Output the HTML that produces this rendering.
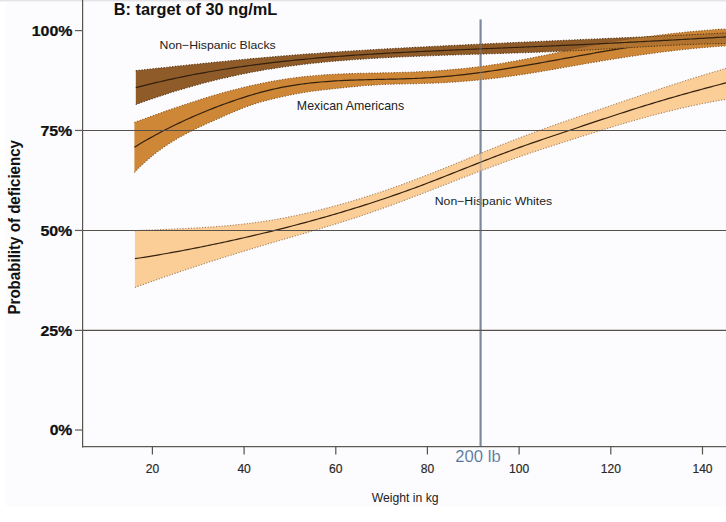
<!DOCTYPE html>
<html><head><meta charset="utf-8"><style>html,body{margin:0;padding:0;background:#fff;width:726px;height:522px;overflow:hidden;position:relative}</style></head>
<body>
<svg width="726" height="522" viewBox="0 0 726 522" style="position:absolute;left:0;top:0;font-family:'Liberation Sans', sans-serif">
<rect x="0" y="0" width="726" height="522" fill="#ffffff"/>
<rect x="6" y="0" width="720" height="506" fill="#fcfcff"/>
<rect x="0" y="0" width="726" height="1" fill="#e4e4e6"/>
<rect x="0" y="1" width="726" height="1" fill="#f2f2f4"/>
<defs><clipPath id="cb"><path d="M135.8,70.59 L138.8,70.27 L141.8,69.95 L144.8,69.63 L147.8,69.31 L150.8,68.98 L153.8,68.66 L156.8,68.34 L159.8,68.02 L162.8,67.70 L165.8,67.38 L168.8,67.06 L171.8,66.74 L174.8,66.42 L177.8,66.11 L180.8,65.79 L183.8,65.47 L186.8,65.16 L189.8,64.84 L192.8,64.53 L195.8,64.22 L198.8,63.91 L201.8,63.60 L204.8,63.29 L207.8,62.98 L210.8,62.68 L213.8,62.37 L216.8,62.07 L219.8,61.77 L222.8,61.47 L225.8,61.18 L228.8,60.88 L231.8,60.59 L234.8,60.30 L237.8,60.01 L240.8,59.72 L243.8,59.43 L246.8,59.15 L249.8,58.87 L252.8,58.59 L255.8,58.32 L258.8,58.05 L261.8,57.78 L264.8,57.51 L267.8,57.24 L270.8,56.98 L273.8,56.72 L276.8,56.47 L279.8,56.21 L282.8,55.96 L285.8,55.72 L288.8,55.47 L291.8,55.23 L294.8,55.00 L297.8,54.76 L300.8,54.53 L303.8,54.30 L306.8,54.07 L309.8,53.85 L312.8,53.63 L315.8,53.41 L318.8,53.19 L321.8,52.98 L324.8,52.77 L327.8,52.56 L330.8,52.35 L333.8,52.15 L336.8,51.95 L339.8,51.75 L342.8,51.55 L345.8,51.36 L348.8,51.16 L351.8,50.97 L354.8,50.78 L357.8,50.60 L360.8,50.41 L363.8,50.23 L366.8,50.05 L369.8,49.87 L372.8,49.69 L375.8,49.52 L378.8,49.34 L381.8,49.17 L384.8,49.00 L387.8,48.83 L390.8,48.66 L393.8,48.49 L396.8,48.33 L399.8,48.17 L402.8,48.00 L405.8,47.84 L408.8,47.68 L411.8,47.52 L414.8,47.36 L417.8,47.21 L420.8,47.05 L423.8,46.90 L426.8,46.74 L429.8,46.59 L432.8,46.44 L435.8,46.29 L438.8,46.14 L441.8,45.99 L444.8,45.84 L447.8,45.69 L450.8,45.54 L453.8,45.40 L456.8,45.25 L459.8,45.10 L462.8,44.96 L465.8,44.82 L468.8,44.67 L471.8,44.53 L474.8,44.39 L477.8,44.25 L480.8,44.11 L483.8,43.97 L486.8,43.83 L489.8,43.69 L492.8,43.55 L495.8,43.41 L498.8,43.27 L501.8,43.13 L504.8,43.00 L507.8,42.86 L510.8,42.72 L513.8,42.59 L516.8,42.45 L519.8,42.32 L522.8,42.18 L525.8,42.05 L528.8,41.92 L531.8,41.78 L534.8,41.65 L537.8,41.52 L540.8,41.38 L543.8,41.25 L546.8,41.12 L549.8,40.99 L552.8,40.85 L555.8,40.72 L558.8,40.59 L561.8,40.46 L564.8,40.33 L567.8,40.20 L570.8,40.06 L573.8,39.93 L576.8,39.80 L579.8,39.67 L582.8,39.54 L585.8,39.41 L588.8,39.28 L591.8,39.15 L594.8,39.01 L597.8,38.88 L600.8,38.75 L603.8,38.62 L606.8,38.49 L609.8,38.36 L612.8,38.23 L615.8,38.09 L618.8,37.96 L621.8,37.83 L624.8,37.70 L627.8,37.56 L630.8,37.43 L633.8,37.30 L636.8,37.16 L639.8,37.03 L642.8,36.89 L645.8,36.76 L648.8,36.63 L651.8,36.49 L654.8,36.35 L657.8,36.22 L660.8,36.08 L663.8,35.94 L666.8,35.81 L669.8,35.67 L672.8,35.53 L675.8,35.39 L678.8,35.25 L681.8,35.11 L684.8,34.97 L687.8,34.83 L690.8,34.69 L693.8,34.55 L696.8,34.41 L699.8,34.26 L702.8,34.12 L705.8,33.97 L708.8,33.83 L711.8,33.68 L714.8,33.54 L717.8,33.39 L720.8,33.24 L723.8,33.09 L726.8,32.94 L729.8,32.79 L730.0,32.78 L730.0,43.46 L729.8,43.46 L726.8,43.50 L723.8,43.54 L720.8,43.58 L717.8,43.64 L714.8,43.70 L711.8,43.77 L708.8,43.85 L705.8,43.93 L702.8,44.02 L699.8,44.12 L696.8,44.22 L693.8,44.33 L690.8,44.45 L687.8,44.57 L684.8,44.69 L681.8,44.82 L678.8,44.96 L675.8,45.10 L672.8,45.24 L669.8,45.39 L666.8,45.54 L663.8,45.69 L660.8,45.85 L657.8,46.01 L654.8,46.17 L651.8,46.34 L648.8,46.50 L645.8,46.67 L642.8,46.85 L639.8,47.02 L636.8,47.19 L633.8,47.37 L630.8,47.54 L627.8,47.72 L624.8,47.89 L621.8,48.07 L618.8,48.25 L615.8,48.42 L612.8,48.60 L609.8,48.77 L606.8,48.94 L603.8,49.11 L600.8,49.28 L597.8,49.45 L594.8,49.62 L591.8,49.78 L588.8,49.94 L585.8,50.10 L582.8,50.25 L579.8,50.40 L576.8,50.55 L573.8,50.69 L570.8,50.83 L567.8,50.97 L564.8,51.10 L561.8,51.23 L558.8,51.36 L555.8,51.49 L552.8,51.61 L549.8,51.73 L546.8,51.85 L543.8,51.96 L540.8,52.08 L537.8,52.19 L534.8,52.29 L531.8,52.40 L528.8,52.51 L525.8,52.61 L522.8,52.71 L519.8,52.81 L516.8,52.91 L513.8,53.01 L510.8,53.11 L507.8,53.20 L504.8,53.30 L501.8,53.39 L498.8,53.48 L495.8,53.58 L492.8,53.67 L489.8,53.76 L486.8,53.86 L483.8,53.95 L480.8,54.04 L477.8,54.13 L474.8,54.22 L471.8,54.32 L468.8,54.41 L465.8,54.51 L462.8,54.60 L459.8,54.70 L456.8,54.79 L453.8,54.89 L450.8,54.99 L447.8,55.09 L444.8,55.19 L441.8,55.30 L438.8,55.40 L435.8,55.51 L432.8,55.62 L429.8,55.73 L426.8,55.84 L423.8,55.96 L420.8,56.07 L417.8,56.20 L414.8,56.32 L411.8,56.44 L408.8,56.57 L405.8,56.70 L402.8,56.84 L399.8,56.97 L396.8,57.11 L393.8,57.26 L390.8,57.41 L387.8,57.56 L384.8,57.71 L381.8,57.87 L378.8,58.04 L375.8,58.21 L372.8,58.38 L369.8,58.56 L366.8,58.75 L363.8,58.94 L360.8,59.14 L357.8,59.34 L354.8,59.55 L351.8,59.77 L348.8,59.99 L345.8,60.22 L342.8,60.46 L339.8,60.70 L336.8,60.95 L333.8,61.21 L330.8,61.48 L327.8,61.76 L324.8,62.04 L321.8,62.34 L318.8,62.64 L315.8,62.95 L312.8,63.27 L309.8,63.60 L306.8,63.94 L303.8,64.29 L300.8,64.65 L297.8,65.03 L294.8,65.41 L291.8,65.80 L288.8,66.20 L285.8,66.62 L282.8,67.05 L279.8,67.49 L276.8,67.94 L273.8,68.40 L270.8,68.88 L267.8,69.36 L264.8,69.87 L261.8,70.38 L258.8,70.91 L255.8,71.45 L252.8,72.00 L249.8,72.57 L246.8,73.15 L243.8,73.75 L240.8,74.36 L237.8,74.99 L234.8,75.63 L231.8,76.28 L228.8,76.95 L225.8,77.63 L222.8,78.33 L219.8,79.04 L216.8,79.76 L213.8,80.50 L210.8,81.25 L207.8,82.01 L204.8,82.79 L201.8,83.59 L198.8,84.39 L195.8,85.21 L192.8,86.05 L189.8,86.90 L186.8,87.76 L183.8,88.64 L180.8,89.53 L177.8,90.43 L174.8,91.35 L171.8,92.28 L168.8,93.22 L165.8,94.18 L162.8,95.15 L159.8,96.14 L156.8,97.14 L153.8,98.15 L150.8,99.18 L147.8,100.22 L144.8,101.27 L141.8,102.34 L138.8,103.42 L135.8,104.51 Z"/></clipPath></defs>
<text transform="translate(434.746,205.200) scale(1.0544,1)" font-size="11.628" font-weight="normal" fill="#222">Non&#8722;Hispanic Whites</text>
<line x1="480.6" y1="19.4" x2="480.6" y2="446" stroke="#7b8a9c" stroke-width="2"/>
<path d="M134.9,230.68 L137.9,230.55 L140.9,230.42 L143.9,230.30 L146.9,230.17 L149.9,230.05 L152.9,229.93 L155.9,229.81 L158.9,229.69 L161.9,229.56 L164.9,229.44 L167.9,229.31 L170.9,229.18 L173.9,229.05 L176.9,228.92 L179.9,228.78 L182.9,228.63 L185.9,228.49 L188.9,228.33 L191.9,228.17 L194.9,228.01 L197.9,227.83 L200.9,227.66 L203.9,227.47 L206.9,227.27 L209.9,227.07 L212.9,226.85 L215.9,226.63 L218.9,226.40 L221.9,226.16 L224.9,225.90 L227.9,225.63 L230.9,225.36 L233.9,225.06 L236.9,224.76 L239.9,224.44 L242.9,224.11 L245.9,223.77 L248.9,223.41 L251.9,223.03 L254.9,222.64 L257.9,222.23 L260.9,221.80 L263.9,221.36 L266.9,220.90 L269.9,220.42 L272.9,219.92 L275.9,219.41 L278.9,218.87 L281.9,218.32 L284.9,217.75 L287.9,217.16 L290.9,216.56 L293.9,215.94 L296.9,215.30 L299.9,214.65 L302.9,213.98 L305.9,213.30 L308.9,212.60 L311.9,211.89 L314.9,211.16 L317.9,210.42 L320.9,209.66 L323.9,208.90 L326.9,208.12 L329.9,207.32 L332.9,206.52 L335.9,205.70 L338.9,204.87 L341.9,204.03 L344.9,203.17 L347.9,202.31 L350.9,201.43 L353.9,200.54 L356.9,199.63 L359.9,198.72 L362.9,197.79 L365.9,196.85 L368.9,195.90 L371.9,194.93 L374.9,193.95 L377.9,192.97 L380.9,191.96 L383.9,190.95 L386.9,189.92 L389.9,188.88 L392.9,187.83 L395.9,186.77 L398.9,185.69 L401.9,184.61 L404.9,183.51 L407.9,182.40 L410.9,181.28 L413.9,180.15 L416.9,179.02 L419.9,177.87 L422.9,176.72 L425.9,175.55 L428.9,174.38 L431.9,173.20 L434.9,172.01 L437.9,170.82 L440.9,169.62 L443.9,168.41 L446.9,167.20 L449.9,165.98 L452.9,164.76 L455.9,163.54 L458.9,162.31 L461.9,161.07 L464.9,159.84 L467.9,158.60 L470.9,157.36 L473.9,156.13 L476.9,154.89 L479.9,153.66 L482.9,152.42 L485.9,151.19 L488.9,149.97 L491.9,148.75 L494.9,147.53 L497.9,146.32 L500.9,145.12 L503.9,143.93 L506.9,142.74 L509.9,141.56 L512.9,140.40 L515.9,139.24 L518.9,138.09 L521.9,136.95 L524.9,135.82 L527.9,134.69 L530.9,133.58 L533.9,132.47 L536.9,131.37 L539.9,130.28 L542.9,129.19 L545.9,128.11 L548.9,127.04 L551.9,125.97 L554.9,124.91 L557.9,123.85 L560.9,122.80 L563.9,121.75 L566.9,120.71 L569.9,119.66 L572.9,118.63 L575.9,117.59 L578.9,116.56 L581.9,115.53 L584.9,114.50 L587.9,113.47 L590.9,112.44 L593.9,111.41 L596.9,110.38 L599.9,109.36 L602.9,108.33 L605.9,107.30 L608.9,106.27 L611.9,105.24 L614.9,104.22 L617.9,103.19 L620.9,102.16 L623.9,101.13 L626.9,100.11 L629.9,99.09 L632.9,98.06 L635.9,97.04 L638.9,96.03 L641.9,95.01 L644.9,94.00 L647.9,92.99 L650.9,91.98 L653.9,90.98 L656.9,89.98 L659.9,88.98 L662.9,87.99 L665.9,87.00 L668.9,86.01 L671.9,85.03 L674.9,84.06 L677.9,83.09 L680.9,82.12 L683.9,81.16 L686.9,80.21 L689.9,79.26 L692.9,78.32 L695.9,77.39 L698.9,76.46 L701.9,75.54 L704.9,74.62 L707.9,73.71 L710.9,72.82 L713.9,71.92 L716.9,71.04 L719.9,70.16 L722.9,69.30 L725.9,68.44 L728.9,67.59 L730.0,67.28 L730.0,98.65 L728.9,98.83 L725.9,99.31 L722.9,99.80 L719.9,100.31 L716.9,100.84 L713.9,101.38 L710.9,101.94 L707.9,102.51 L704.9,103.09 L701.9,103.69 L698.9,104.31 L695.9,104.94 L692.9,105.58 L689.9,106.23 L686.9,106.90 L683.9,107.58 L680.9,108.27 L677.9,108.97 L674.9,109.69 L671.9,110.42 L668.9,111.16 L665.9,111.91 L662.9,112.67 L659.9,113.44 L656.9,114.23 L653.9,115.02 L650.9,115.82 L647.9,116.63 L644.9,117.46 L641.9,118.29 L638.9,119.13 L635.9,119.97 L632.9,120.83 L629.9,121.69 L626.9,122.56 L623.9,123.44 L620.9,124.33 L617.9,125.22 L614.9,126.11 L611.9,127.02 L608.9,127.93 L605.9,128.84 L602.9,129.76 L599.9,130.69 L596.9,131.62 L593.9,132.55 L590.9,133.49 L587.9,134.43 L584.9,135.37 L581.9,136.32 L578.9,137.27 L575.9,138.22 L572.9,139.17 L569.9,140.13 L566.9,141.09 L563.9,142.05 L560.9,143.01 L557.9,143.97 L554.9,144.94 L551.9,145.91 L548.9,146.89 L545.9,147.87 L542.9,148.85 L539.9,149.84 L536.9,150.83 L533.9,151.84 L530.9,152.84 L527.9,153.86 L524.9,154.88 L521.9,155.91 L518.9,156.94 L515.9,157.99 L512.9,159.04 L509.9,160.10 L506.9,161.18 L503.9,162.26 L500.9,163.35 L497.9,164.45 L494.9,165.55 L491.9,166.67 L488.9,167.79 L485.9,168.91 L482.9,170.04 L479.9,171.18 L476.9,172.33 L473.9,173.47 L470.9,174.63 L467.9,175.78 L464.9,176.94 L461.9,178.10 L458.9,179.27 L455.9,180.43 L452.9,181.60 L449.9,182.77 L446.9,183.94 L443.9,185.11 L440.9,186.28 L437.9,187.45 L434.9,188.61 L431.9,189.78 L428.9,190.94 L425.9,192.10 L422.9,193.26 L419.9,194.42 L416.9,195.57 L413.9,196.72 L410.9,197.86 L407.9,199.00 L404.9,200.13 L401.9,201.25 L398.9,202.37 L395.9,203.49 L392.9,204.59 L389.9,205.69 L386.9,206.79 L383.9,207.87 L380.9,208.95 L377.9,210.01 L374.9,211.07 L371.9,212.12 L368.9,213.16 L365.9,214.18 L362.9,215.20 L359.9,216.21 L356.9,217.20 L353.9,218.19 L350.9,219.16 L347.9,220.12 L344.9,221.08 L341.9,222.02 L338.9,222.96 L335.9,223.89 L332.9,224.81 L329.9,225.72 L326.9,226.63 L323.9,227.53 L320.9,228.43 L317.9,229.32 L314.9,230.21 L311.9,231.09 L308.9,231.97 L305.9,232.85 L302.9,233.73 L299.9,234.60 L296.9,235.47 L293.9,236.34 L290.9,237.21 L287.9,238.09 L284.9,238.96 L281.9,239.83 L278.9,240.70 L275.9,241.58 L272.9,242.46 L269.9,243.34 L266.9,244.23 L263.9,245.12 L260.9,246.01 L257.9,246.91 L254.9,247.81 L251.9,248.72 L248.9,249.62 L245.9,250.54 L242.9,251.45 L239.9,252.38 L236.9,253.30 L233.9,254.23 L230.9,255.16 L227.9,256.10 L224.9,257.04 L221.9,257.99 L218.9,258.94 L215.9,259.89 L212.9,260.85 L209.9,261.82 L206.9,262.78 L203.9,263.76 L200.9,264.73 L197.9,265.71 L194.9,266.70 L191.9,267.69 L188.9,268.69 L185.9,269.69 L182.9,270.69 L179.9,271.70 L176.9,272.72 L173.9,273.74 L170.9,274.77 L167.9,275.80 L164.9,276.83 L161.9,277.87 L158.9,278.92 L155.9,279.97 L152.9,281.02 L149.9,282.08 L146.9,283.15 L143.9,284.22 L140.9,285.30 L137.9,286.38 L134.9,287.47 Z" fill="#face96"/>
<path d="M134.9,230.68 L137.9,230.55 L140.9,230.42 L143.9,230.30 L146.9,230.17 L149.9,230.05 L152.9,229.93 L155.9,229.81 L158.9,229.69 L161.9,229.56 L164.9,229.44 L167.9,229.31 L170.9,229.18 L173.9,229.05 L176.9,228.92 L179.9,228.78 L182.9,228.63 L185.9,228.49 L188.9,228.33 L191.9,228.17 L194.9,228.01 L197.9,227.83 L200.9,227.66 L203.9,227.47 L206.9,227.27 L209.9,227.07 L212.9,226.85 L215.9,226.63 L218.9,226.40 L221.9,226.16 L224.9,225.90 L227.9,225.63 L230.9,225.36 L233.9,225.06 L236.9,224.76 L239.9,224.44 L242.9,224.11 L245.9,223.77 L248.9,223.41 L251.9,223.03 L254.9,222.64 L257.9,222.23 L260.9,221.80 L263.9,221.36 L266.9,220.90 L269.9,220.42 L272.9,219.92 L275.9,219.41 L278.9,218.87 L281.9,218.32 L284.9,217.75 L287.9,217.16 L290.9,216.56 L293.9,215.94 L296.9,215.30 L299.9,214.65 L302.9,213.98 L305.9,213.30 L308.9,212.60 L311.9,211.89 L314.9,211.16 L317.9,210.42 L320.9,209.66 L323.9,208.90 L326.9,208.12 L329.9,207.32 L332.9,206.52 L335.9,205.70 L338.9,204.87 L341.9,204.03 L344.9,203.17 L347.9,202.31 L350.9,201.43 L353.9,200.54 L356.9,199.63 L359.9,198.72 L362.9,197.79 L365.9,196.85 L368.9,195.90 L371.9,194.93 L374.9,193.95 L377.9,192.97 L380.9,191.96 L383.9,190.95 L386.9,189.92 L389.9,188.88 L392.9,187.83 L395.9,186.77 L398.9,185.69 L401.9,184.61 L404.9,183.51 L407.9,182.40 L410.9,181.28 L413.9,180.15 L416.9,179.02 L419.9,177.87 L422.9,176.72 L425.9,175.55 L428.9,174.38 L431.9,173.20 L434.9,172.01 L437.9,170.82 L440.9,169.62 L443.9,168.41 L446.9,167.20 L449.9,165.98 L452.9,164.76 L455.9,163.54 L458.9,162.31 L461.9,161.07 L464.9,159.84 L467.9,158.60 L470.9,157.36 L473.9,156.13 L476.9,154.89 L479.9,153.66 L482.9,152.42 L485.9,151.19 L488.9,149.97 L491.9,148.75 L494.9,147.53 L497.9,146.32 L500.9,145.12 L503.9,143.93 L506.9,142.74 L509.9,141.56 L512.9,140.40 L515.9,139.24 L518.9,138.09 L521.9,136.95 L524.9,135.82 L527.9,134.69 L530.9,133.58 L533.9,132.47 L536.9,131.37 L539.9,130.28 L542.9,129.19 L545.9,128.11 L548.9,127.04 L551.9,125.97 L554.9,124.91 L557.9,123.85 L560.9,122.80 L563.9,121.75 L566.9,120.71 L569.9,119.66 L572.9,118.63 L575.9,117.59 L578.9,116.56 L581.9,115.53 L584.9,114.50 L587.9,113.47 L590.9,112.44 L593.9,111.41 L596.9,110.38 L599.9,109.36 L602.9,108.33 L605.9,107.30 L608.9,106.27 L611.9,105.24 L614.9,104.22 L617.9,103.19 L620.9,102.16 L623.9,101.13 L626.9,100.11 L629.9,99.09 L632.9,98.06 L635.9,97.04 L638.9,96.03 L641.9,95.01 L644.9,94.00 L647.9,92.99 L650.9,91.98 L653.9,90.98 L656.9,89.98 L659.9,88.98 L662.9,87.99 L665.9,87.00 L668.9,86.01 L671.9,85.03 L674.9,84.06 L677.9,83.09 L680.9,82.12 L683.9,81.16 L686.9,80.21 L689.9,79.26 L692.9,78.32 L695.9,77.39 L698.9,76.46 L701.9,75.54 L704.9,74.62 L707.9,73.71 L710.9,72.82 L713.9,71.92 L716.9,71.04 L719.9,70.16 L722.9,69.30 L725.9,68.44 L728.9,67.59 L730.0,67.28" fill="none" stroke="#a88462" stroke-width="1.1" stroke-dasharray="1.2 1.6"/>
<path d="M134.9,287.47 L137.9,286.38 L140.9,285.30 L143.9,284.22 L146.9,283.15 L149.9,282.08 L152.9,281.02 L155.9,279.97 L158.9,278.92 L161.9,277.87 L164.9,276.83 L167.9,275.80 L170.9,274.77 L173.9,273.74 L176.9,272.72 L179.9,271.70 L182.9,270.69 L185.9,269.69 L188.9,268.69 L191.9,267.69 L194.9,266.70 L197.9,265.71 L200.9,264.73 L203.9,263.76 L206.9,262.78 L209.9,261.82 L212.9,260.85 L215.9,259.89 L218.9,258.94 L221.9,257.99 L224.9,257.04 L227.9,256.10 L230.9,255.16 L233.9,254.23 L236.9,253.30 L239.9,252.38 L242.9,251.45 L245.9,250.54 L248.9,249.62 L251.9,248.72 L254.9,247.81 L257.9,246.91 L260.9,246.01 L263.9,245.12 L266.9,244.23 L269.9,243.34 L272.9,242.46 L275.9,241.58 L278.9,240.70 L281.9,239.83 L284.9,238.96 L287.9,238.09 L290.9,237.21 L293.9,236.34 L296.9,235.47 L299.9,234.60 L302.9,233.73 L305.9,232.85 L308.9,231.97 L311.9,231.09 L314.9,230.21 L317.9,229.32 L320.9,228.43 L323.9,227.53 L326.9,226.63 L329.9,225.72 L332.9,224.81 L335.9,223.89 L338.9,222.96 L341.9,222.02 L344.9,221.08 L347.9,220.12 L350.9,219.16 L353.9,218.19 L356.9,217.20 L359.9,216.21 L362.9,215.20 L365.9,214.18 L368.9,213.16 L371.9,212.12 L374.9,211.07 L377.9,210.01 L380.9,208.95 L383.9,207.87 L386.9,206.79 L389.9,205.69 L392.9,204.59 L395.9,203.49 L398.9,202.37 L401.9,201.25 L404.9,200.13 L407.9,199.00 L410.9,197.86 L413.9,196.72 L416.9,195.57 L419.9,194.42 L422.9,193.26 L425.9,192.10 L428.9,190.94 L431.9,189.78 L434.9,188.61 L437.9,187.45 L440.9,186.28 L443.9,185.11 L446.9,183.94 L449.9,182.77 L452.9,181.60 L455.9,180.43 L458.9,179.27 L461.9,178.10 L464.9,176.94 L467.9,175.78 L470.9,174.63 L473.9,173.47 L476.9,172.33 L479.9,171.18 L482.9,170.04 L485.9,168.91 L488.9,167.79 L491.9,166.67 L494.9,165.55 L497.9,164.45 L500.9,163.35 L503.9,162.26 L506.9,161.18 L509.9,160.10 L512.9,159.04 L515.9,157.99 L518.9,156.94 L521.9,155.91 L524.9,154.88 L527.9,153.86 L530.9,152.84 L533.9,151.84 L536.9,150.83 L539.9,149.84 L542.9,148.85 L545.9,147.87 L548.9,146.89 L551.9,145.91 L554.9,144.94 L557.9,143.97 L560.9,143.01 L563.9,142.05 L566.9,141.09 L569.9,140.13 L572.9,139.17 L575.9,138.22 L578.9,137.27 L581.9,136.32 L584.9,135.37 L587.9,134.43 L590.9,133.49 L593.9,132.55 L596.9,131.62 L599.9,130.69 L602.9,129.76 L605.9,128.84 L608.9,127.93 L611.9,127.02 L614.9,126.11 L617.9,125.22 L620.9,124.33 L623.9,123.44 L626.9,122.56 L629.9,121.69 L632.9,120.83 L635.9,119.97 L638.9,119.13 L641.9,118.29 L644.9,117.46 L647.9,116.63 L650.9,115.82 L653.9,115.02 L656.9,114.23 L659.9,113.44 L662.9,112.67 L665.9,111.91 L668.9,111.16 L671.9,110.42 L674.9,109.69 L677.9,108.97 L680.9,108.27 L683.9,107.58 L686.9,106.90 L689.9,106.23 L692.9,105.58 L695.9,104.94 L698.9,104.31 L701.9,103.69 L704.9,103.09 L707.9,102.51 L710.9,101.94 L713.9,101.38 L716.9,100.84 L719.9,100.31 L722.9,99.80 L725.9,99.31 L728.9,98.83 L730.0,98.65" fill="none" stroke="#a88462" stroke-width="1.1" stroke-dasharray="1.2 1.6"/>


<path d="M134.9,258.71 L137.9,258.24 L140.9,257.77 L143.9,257.29 L146.9,256.80 L149.9,256.31 L152.9,255.81 L155.9,255.31 L158.9,254.79 L161.9,254.28 L164.9,253.75 L167.9,253.22 L170.9,252.69 L173.9,252.14 L176.9,251.59 L179.9,251.04 L182.9,250.48 L185.9,249.91 L188.9,249.34 L191.9,248.76 L194.9,248.17 L197.9,247.58 L200.9,246.98 L203.9,246.38 L206.9,245.76 L209.9,245.15 L212.9,244.53 L215.9,243.90 L218.9,243.26 L221.9,242.62 L224.9,241.98 L227.9,241.32 L230.9,240.67 L233.9,240.00 L236.9,239.33 L239.9,238.66 L242.9,237.98 L245.9,237.29 L248.9,236.60 L251.9,235.90 L254.9,235.19 L257.9,234.48 L260.9,233.77 L263.9,233.04 L266.9,232.32 L269.9,231.58 L272.9,230.84 L275.9,230.10 L278.9,229.35 L281.9,228.59 L284.9,227.83 L287.9,227.06 L290.9,226.29 L293.9,225.50 L296.9,224.72 L299.9,223.92 L302.9,223.12 L305.9,222.32 L308.9,221.50 L311.9,220.68 L314.9,219.86 L317.9,219.02 L320.9,218.18 L323.9,217.33 L326.9,216.48 L329.9,215.61 L332.9,214.74 L335.9,213.87 L338.9,212.98 L341.9,212.09 L344.9,211.19 L347.9,210.28 L350.9,209.37 L353.9,208.44 L356.9,207.51 L359.9,206.57 L362.9,205.63 L365.9,204.67 L368.9,203.71 L371.9,202.73 L374.9,201.75 L377.9,200.76 L380.9,199.77 L383.9,198.76 L386.9,197.74 L389.9,196.72 L392.9,195.69 L395.9,194.64 L398.9,193.59 L401.9,192.53 L404.9,191.46 L407.9,190.38 L410.9,189.29 L413.9,188.19 L416.9,187.09 L419.9,185.97 L422.9,184.84 L425.9,183.70 L428.9,182.56 L431.9,181.41 L434.9,180.25 L437.9,179.08 L440.9,177.91 L443.9,176.73 L446.9,175.55 L449.9,174.36 L452.9,173.18 L455.9,171.99 L458.9,170.79 L461.9,169.60 L464.9,168.41 L467.9,167.22 L470.9,166.02 L473.9,164.84 L476.9,163.65 L479.9,162.47 L482.9,161.29 L485.9,160.11 L488.9,158.94 L491.9,157.78 L494.9,156.62 L497.9,155.47 L500.9,154.33 L503.9,153.20 L506.9,152.07 L509.9,150.96 L512.9,149.86 L515.9,148.76 L518.9,147.68 L521.9,146.61 L524.9,145.54 L527.9,144.48 L530.9,143.43 L533.9,142.39 L536.9,141.36 L539.9,140.33 L542.9,139.30 L545.9,138.28 L548.9,137.26 L551.9,136.25 L554.9,135.24 L557.9,134.23 L560.9,133.22 L563.9,132.22 L566.9,131.21 L569.9,130.21 L572.9,129.21 L575.9,128.20 L578.9,127.20 L581.9,126.19 L584.9,125.19 L587.9,124.19 L590.9,123.18 L593.9,122.18 L596.9,121.19 L599.9,120.19 L602.9,119.19 L605.9,118.20 L608.9,117.21 L611.9,116.23 L614.9,115.25 L617.9,114.27 L620.9,113.29 L623.9,112.32 L626.9,111.35 L629.9,110.39 L632.9,109.44 L635.9,108.49 L638.9,107.54 L641.9,106.60 L644.9,105.67 L647.9,104.74 L650.9,103.82 L653.9,102.91 L656.9,102.00 L659.9,101.10 L662.9,100.21 L665.9,99.33 L668.9,98.45 L671.9,97.58 L674.9,96.72 L677.9,95.86 L680.9,95.01 L683.9,94.17 L686.9,93.34 L689.9,92.50 L692.9,91.68 L695.9,90.86 L698.9,90.05 L701.9,89.24 L704.9,88.43 L707.9,87.63 L710.9,86.83 L713.9,86.04 L716.9,85.26 L719.9,84.47 L722.9,83.69 L725.9,82.91 L728.9,82.14 L730.0,81.86" fill="none" stroke="#33200e" stroke-width="1.2"/>

<path d="M134.4,122.45 L137.4,121.35 L140.4,120.26 L143.4,119.16 L146.4,118.07 L149.4,116.98 L152.4,115.90 L155.4,114.82 L158.4,113.74 L161.4,112.67 L164.4,111.61 L167.4,110.55 L170.4,109.50 L173.4,108.46 L176.4,107.43 L179.4,106.40 L182.4,105.39 L185.4,104.38 L188.4,103.38 L191.4,102.39 L194.4,101.42 L197.4,100.45 L200.4,99.50 L203.4,98.56 L206.4,97.63 L209.4,96.72 L212.4,95.82 L215.4,94.93 L218.4,94.06 L221.4,93.21 L224.4,92.37 L227.4,91.55 L230.4,90.74 L233.4,89.95 L236.4,89.18 L239.4,88.42 L242.4,87.68 L245.4,86.97 L248.4,86.26 L251.4,85.58 L254.4,84.92 L257.4,84.27 L260.4,83.64 L263.4,83.03 L266.4,82.44 L269.4,81.87 L272.4,81.31 L275.4,80.78 L278.4,80.27 L281.4,79.77 L284.4,79.29 L287.4,78.84 L290.4,78.40 L293.4,77.99 L296.4,77.59 L299.4,77.21 L302.4,76.86 L305.4,76.52 L308.4,76.21 L311.4,75.92 L314.4,75.64 L317.4,75.39 L320.4,75.15 L323.4,74.94 L326.4,74.74 L329.4,74.55 L332.4,74.38 L335.4,74.23 L338.4,74.08 L341.4,73.95 L344.4,73.83 L347.4,73.72 L350.4,73.62 L353.4,73.53 L356.4,73.45 L359.4,73.37 L362.4,73.29 L365.4,73.23 L368.4,73.16 L371.4,73.10 L374.4,73.04 L377.4,72.98 L380.4,72.92 L383.4,72.86 L386.4,72.80 L389.4,72.74 L392.4,72.67 L395.4,72.60 L398.4,72.52 L401.4,72.43 L404.4,72.34 L407.4,72.24 L410.4,72.13 L413.4,72.01 L416.4,71.89 L419.4,71.76 L422.4,71.61 L425.4,71.46 L428.4,71.30 L431.4,71.13 L434.4,70.95 L437.4,70.75 L440.4,70.55 L443.4,70.33 L446.4,70.11 L449.4,69.87 L452.4,69.61 L455.4,69.35 L458.4,69.07 L461.4,68.78 L464.4,68.48 L467.4,68.16 L470.4,67.83 L473.4,67.48 L476.4,67.12 L479.4,66.74 L482.4,66.35 L485.4,65.94 L488.4,65.52 L491.4,65.08 L494.4,64.62 L497.4,64.15 L500.4,63.66 L503.4,63.16 L506.4,62.65 L509.4,62.12 L512.4,61.58 L515.4,61.03 L518.4,60.48 L521.4,59.91 L524.4,59.33 L527.4,58.75 L530.4,58.16 L533.4,57.56 L536.4,56.96 L539.4,56.35 L542.4,55.74 L545.4,55.13 L548.4,54.51 L551.4,53.89 L554.4,53.28 L557.4,52.66 L560.4,52.04 L563.4,51.43 L566.4,50.82 L569.4,50.21 L572.4,49.60 L575.4,49.00 L578.4,48.41 L581.4,47.82 L584.4,47.24 L587.4,46.67 L590.4,46.10 L593.4,45.55 L596.4,44.99 L599.4,44.45 L602.4,43.91 L605.4,43.38 L608.4,42.86 L611.4,42.34 L614.4,41.84 L617.4,41.34 L620.4,40.85 L623.4,40.36 L626.4,39.89 L629.4,39.42 L632.4,38.96 L635.4,38.50 L638.4,38.06 L641.4,37.62 L644.4,37.19 L647.4,36.77 L650.4,36.36 L653.4,35.96 L656.4,35.56 L659.4,35.18 L662.4,34.80 L665.4,34.43 L668.4,34.07 L671.4,33.72 L674.4,33.37 L677.4,33.04 L680.4,32.71 L683.4,32.40 L686.4,32.09 L689.4,31.79 L692.4,31.50 L695.4,31.22 L698.4,30.95 L701.4,30.69 L704.4,30.44 L707.4,30.20 L710.4,29.96 L713.4,29.74 L716.4,29.52 L719.4,29.32 L722.4,29.13 L725.4,28.94 L728.4,28.77 L730.0,28.68 L730.0,45.59 L728.4,45.69 L725.4,45.87 L722.4,46.07 L719.4,46.28 L716.4,46.50 L713.4,46.72 L710.4,46.96 L707.4,47.21 L704.4,47.47 L701.4,47.73 L698.4,48.01 L695.4,48.29 L692.4,48.59 L689.4,48.89 L686.4,49.20 L683.4,49.52 L680.4,49.85 L677.4,50.19 L674.4,50.53 L671.4,50.89 L668.4,51.25 L665.4,51.61 L662.4,51.99 L659.4,52.37 L656.4,52.76 L653.4,53.16 L650.4,53.56 L647.4,53.98 L644.4,54.39 L641.4,54.82 L638.4,55.25 L635.4,55.68 L632.4,56.12 L629.4,56.57 L626.4,57.03 L623.4,57.48 L620.4,57.95 L617.4,58.42 L614.4,58.89 L611.4,59.37 L608.4,59.86 L605.4,60.34 L602.4,60.84 L599.4,61.34 L596.4,61.84 L593.4,62.34 L590.4,62.85 L587.4,63.36 L584.4,63.88 L581.4,64.40 L578.4,64.92 L575.4,65.45 L572.4,65.98 L569.4,66.51 L566.4,67.03 L563.4,67.56 L560.4,68.09 L557.4,68.62 L554.4,69.15 L551.4,69.67 L548.4,70.19 L545.4,70.71 L542.4,71.22 L539.4,71.72 L536.4,72.22 L533.4,72.71 L530.4,73.20 L527.4,73.67 L524.4,74.14 L521.4,74.60 L518.4,75.04 L515.4,75.48 L512.4,75.91 L509.4,76.32 L506.4,76.73 L503.4,77.12 L500.4,77.50 L497.4,77.88 L494.4,78.24 L491.4,78.59 L488.4,78.92 L485.4,79.25 L482.4,79.57 L479.4,79.87 L476.4,80.17 L473.4,80.45 L470.4,80.72 L467.4,80.98 L464.4,81.22 L461.4,81.46 L458.4,81.68 L455.4,81.90 L452.4,82.10 L449.4,82.29 L446.4,82.46 L443.4,82.63 L440.4,82.78 L437.4,82.92 L434.4,83.05 L431.4,83.17 L428.4,83.27 L425.4,83.37 L422.4,83.45 L419.4,83.53 L416.4,83.60 L413.4,83.67 L410.4,83.73 L407.4,83.79 L404.4,83.86 L401.4,83.92 L398.4,83.99 L395.4,84.07 L392.4,84.16 L389.4,84.25 L386.4,84.36 L383.4,84.48 L380.4,84.61 L377.4,84.77 L374.4,84.94 L371.4,85.13 L368.4,85.34 L365.4,85.57 L362.4,85.83 L359.4,86.10 L356.4,86.38 L353.4,86.67 L350.4,86.97 L347.4,87.28 L344.4,87.59 L341.4,87.90 L338.4,88.21 L335.4,88.51 L332.4,88.82 L329.4,89.13 L326.4,89.45 L323.4,89.78 L320.4,90.13 L317.4,90.50 L314.4,90.89 L311.4,91.30 L308.4,91.74 L305.4,92.21 L302.4,92.71 L299.4,93.24 L296.4,93.79 L293.4,94.37 L290.4,94.96 L287.4,95.58 L284.4,96.22 L281.4,96.87 L278.4,97.55 L275.4,98.24 L272.4,98.95 L269.4,99.69 L266.4,100.46 L263.4,101.26 L260.4,102.11 L257.4,103.00 L254.4,103.93 L251.4,104.92 L248.4,105.97 L245.4,107.08 L242.4,108.23 L239.4,109.42 L236.4,110.66 L233.4,111.92 L230.4,113.21 L227.4,114.52 L224.4,115.84 L221.4,117.16 L218.4,118.49 L215.4,119.81 L212.4,121.14 L209.4,122.48 L206.4,123.83 L203.4,125.19 L200.4,126.58 L197.4,128.00 L194.4,129.45 L191.4,130.94 L188.4,132.46 L185.4,134.04 L182.4,135.66 L179.4,137.34 L176.4,139.08 L173.4,140.89 L170.4,142.76 L167.4,144.71 L164.4,146.73 L161.4,148.85 L158.4,151.04 L155.4,153.34 L152.4,155.73 L149.4,158.22 L146.4,160.82 L143.4,163.53 L140.4,166.36 L137.4,169.31 L134.4,172.38 Z" fill="#cd8737"/>
<path d="M134.4,122.45 L137.4,121.35 L140.4,120.26 L143.4,119.16 L146.4,118.07 L149.4,116.98 L152.4,115.90 L155.4,114.82 L158.4,113.74 L161.4,112.67 L164.4,111.61 L167.4,110.55 L170.4,109.50 L173.4,108.46 L176.4,107.43 L179.4,106.40 L182.4,105.39 L185.4,104.38 L188.4,103.38 L191.4,102.39 L194.4,101.42 L197.4,100.45 L200.4,99.50 L203.4,98.56 L206.4,97.63 L209.4,96.72 L212.4,95.82 L215.4,94.93 L218.4,94.06 L221.4,93.21 L224.4,92.37 L227.4,91.55 L230.4,90.74 L233.4,89.95 L236.4,89.18 L239.4,88.42 L242.4,87.68 L245.4,86.97 L248.4,86.26 L251.4,85.58 L254.4,84.92 L257.4,84.27 L260.4,83.64 L263.4,83.03 L266.4,82.44 L269.4,81.87 L272.4,81.31 L275.4,80.78 L278.4,80.27 L281.4,79.77 L284.4,79.29 L287.4,78.84 L290.4,78.40 L293.4,77.99 L296.4,77.59 L299.4,77.21 L302.4,76.86 L305.4,76.52 L308.4,76.21 L311.4,75.92 L314.4,75.64 L317.4,75.39 L320.4,75.15 L323.4,74.94 L326.4,74.74 L329.4,74.55 L332.4,74.38 L335.4,74.23 L338.4,74.08 L341.4,73.95 L344.4,73.83 L347.4,73.72 L350.4,73.62 L353.4,73.53 L356.4,73.45 L359.4,73.37 L362.4,73.29 L365.4,73.23 L368.4,73.16 L371.4,73.10 L374.4,73.04 L377.4,72.98 L380.4,72.92 L383.4,72.86 L386.4,72.80 L389.4,72.74 L392.4,72.67 L395.4,72.60 L398.4,72.52 L401.4,72.43 L404.4,72.34 L407.4,72.24 L410.4,72.13 L413.4,72.01 L416.4,71.89 L419.4,71.76 L422.4,71.61 L425.4,71.46 L428.4,71.30 L431.4,71.13 L434.4,70.95 L437.4,70.75 L440.4,70.55 L443.4,70.33 L446.4,70.11 L449.4,69.87 L452.4,69.61 L455.4,69.35 L458.4,69.07 L461.4,68.78 L464.4,68.48 L467.4,68.16 L470.4,67.83 L473.4,67.48 L476.4,67.12 L479.4,66.74 L482.4,66.35 L485.4,65.94 L488.4,65.52 L491.4,65.08 L494.4,64.62 L497.4,64.15 L500.4,63.66 L503.4,63.16 L506.4,62.65 L509.4,62.12 L512.4,61.58 L515.4,61.03 L518.4,60.48 L521.4,59.91 L524.4,59.33 L527.4,58.75 L530.4,58.16 L533.4,57.56 L536.4,56.96 L539.4,56.35 L542.4,55.74 L545.4,55.13 L548.4,54.51 L551.4,53.89 L554.4,53.28 L557.4,52.66 L560.4,52.04 L563.4,51.43 L566.4,50.82 L569.4,50.21 L572.4,49.60 L575.4,49.00 L578.4,48.41 L581.4,47.82 L584.4,47.24 L587.4,46.67 L590.4,46.10 L593.4,45.55 L596.4,44.99 L599.4,44.45 L602.4,43.91 L605.4,43.38 L608.4,42.86 L611.4,42.34 L614.4,41.84 L617.4,41.34 L620.4,40.85 L623.4,40.36 L626.4,39.89 L629.4,39.42 L632.4,38.96 L635.4,38.50 L638.4,38.06 L641.4,37.62 L644.4,37.19 L647.4,36.77 L650.4,36.36 L653.4,35.96 L656.4,35.56 L659.4,35.18 L662.4,34.80 L665.4,34.43 L668.4,34.07 L671.4,33.72 L674.4,33.37 L677.4,33.04 L680.4,32.71 L683.4,32.40 L686.4,32.09 L689.4,31.79 L692.4,31.50 L695.4,31.22 L698.4,30.95 L701.4,30.69 L704.4,30.44 L707.4,30.20 L710.4,29.96 L713.4,29.74 L716.4,29.52 L719.4,29.32 L722.4,29.13 L725.4,28.94 L728.4,28.77 L730.0,28.68" fill="none" stroke="#8e561c" stroke-width="1.1" stroke-dasharray="1.2 1.6"/>
<path d="M134.4,172.38 L137.4,169.31 L140.4,166.36 L143.4,163.53 L146.4,160.82 L149.4,158.22 L152.4,155.73 L155.4,153.34 L158.4,151.04 L161.4,148.85 L164.4,146.73 L167.4,144.71 L170.4,142.76 L173.4,140.89 L176.4,139.08 L179.4,137.34 L182.4,135.66 L185.4,134.04 L188.4,132.46 L191.4,130.94 L194.4,129.45 L197.4,128.00 L200.4,126.58 L203.4,125.19 L206.4,123.83 L209.4,122.48 L212.4,121.14 L215.4,119.81 L218.4,118.49 L221.4,117.16 L224.4,115.84 L227.4,114.52 L230.4,113.21 L233.4,111.92 L236.4,110.66 L239.4,109.42 L242.4,108.23 L245.4,107.08 L248.4,105.97 L251.4,104.92 L254.4,103.93 L257.4,103.00 L260.4,102.11 L263.4,101.26 L266.4,100.46 L269.4,99.69 L272.4,98.95 L275.4,98.24 L278.4,97.55 L281.4,96.87 L284.4,96.22 L287.4,95.58 L290.4,94.96 L293.4,94.37 L296.4,93.79 L299.4,93.24 L302.4,92.71 L305.4,92.21 L308.4,91.74 L311.4,91.30 L314.4,90.89 L317.4,90.50 L320.4,90.13 L323.4,89.78 L326.4,89.45 L329.4,89.13 L332.4,88.82 L335.4,88.51 L338.4,88.21 L341.4,87.90 L344.4,87.59 L347.4,87.28 L350.4,86.97 L353.4,86.67 L356.4,86.38 L359.4,86.10 L362.4,85.83 L365.4,85.57 L368.4,85.34 L371.4,85.13 L374.4,84.94 L377.4,84.77 L380.4,84.61 L383.4,84.48 L386.4,84.36 L389.4,84.25 L392.4,84.16 L395.4,84.07 L398.4,83.99 L401.4,83.92 L404.4,83.86 L407.4,83.79 L410.4,83.73 L413.4,83.67 L416.4,83.60 L419.4,83.53 L422.4,83.45 L425.4,83.37 L428.4,83.27 L431.4,83.17 L434.4,83.05 L437.4,82.92 L440.4,82.78 L443.4,82.63 L446.4,82.46 L449.4,82.29 L452.4,82.10 L455.4,81.90 L458.4,81.68 L461.4,81.46 L464.4,81.22 L467.4,80.98 L470.4,80.72 L473.4,80.45 L476.4,80.17 L479.4,79.87 L482.4,79.57 L485.4,79.25 L488.4,78.92 L491.4,78.59 L494.4,78.24 L497.4,77.88 L500.4,77.50 L503.4,77.12 L506.4,76.73 L509.4,76.32 L512.4,75.91 L515.4,75.48 L518.4,75.04 L521.4,74.60 L524.4,74.14 L527.4,73.67 L530.4,73.20 L533.4,72.71 L536.4,72.22 L539.4,71.72 L542.4,71.22 L545.4,70.71 L548.4,70.19 L551.4,69.67 L554.4,69.15 L557.4,68.62 L560.4,68.09 L563.4,67.56 L566.4,67.03 L569.4,66.51 L572.4,65.98 L575.4,65.45 L578.4,64.92 L581.4,64.40 L584.4,63.88 L587.4,63.36 L590.4,62.85 L593.4,62.34 L596.4,61.84 L599.4,61.34 L602.4,60.84 L605.4,60.34 L608.4,59.86 L611.4,59.37 L614.4,58.89 L617.4,58.42 L620.4,57.95 L623.4,57.48 L626.4,57.03 L629.4,56.57 L632.4,56.12 L635.4,55.68 L638.4,55.25 L641.4,54.82 L644.4,54.39 L647.4,53.98 L650.4,53.56 L653.4,53.16 L656.4,52.76 L659.4,52.37 L662.4,51.99 L665.4,51.61 L668.4,51.25 L671.4,50.89 L674.4,50.53 L677.4,50.19 L680.4,49.85 L683.4,49.52 L686.4,49.20 L689.4,48.89 L692.4,48.59 L695.4,48.29 L698.4,48.01 L701.4,47.73 L704.4,47.47 L707.4,47.21 L710.4,46.96 L713.4,46.72 L716.4,46.50 L719.4,46.28 L722.4,46.07 L725.4,45.87 L728.4,45.69 L730.0,45.59" fill="none" stroke="#8e561c" stroke-width="1.1" stroke-dasharray="1.2 1.6"/>

<path d="M134.4,147.25 L137.4,145.42 L140.4,143.61 L143.4,141.84 L146.4,140.10 L149.4,138.39 L152.4,136.71 L155.4,135.05 L158.4,133.43 L161.4,131.84 L164.4,130.27 L167.4,128.73 L170.4,127.22 L173.4,125.73 L176.4,124.27 L179.4,122.84 L182.4,121.43 L185.4,120.04 L188.4,118.68 L191.4,117.34 L194.4,116.03 L197.4,114.74 L200.4,113.47 L203.4,112.22 L206.4,110.99 L209.4,109.78 L212.4,108.60 L215.4,107.43 L218.4,106.28 L221.4,105.15 L224.4,104.04 L227.4,102.95 L230.4,101.88 L233.4,100.83 L236.4,99.80 L239.4,98.80 L242.4,97.82 L245.4,96.86 L248.4,95.92 L251.4,95.01 L254.4,94.13 L257.4,93.27 L260.4,92.44 L263.4,91.64 L266.4,90.87 L269.4,90.13 L272.4,89.41 L275.4,88.73 L278.4,88.08 L281.4,87.46 L284.4,86.88 L287.4,86.32 L290.4,85.80 L293.4,85.31 L296.4,84.84 L299.4,84.40 L302.4,83.99 L305.4,83.60 L308.4,83.24 L311.4,82.90 L314.4,82.59 L317.4,82.29 L320.4,82.02 L323.4,81.76 L326.4,81.53 L329.4,81.31 L332.4,81.11 L335.4,80.93 L338.4,80.76 L341.4,80.60 L344.4,80.46 L347.4,80.33 L350.4,80.20 L353.4,80.09 L356.4,79.99 L359.4,79.90 L362.4,79.81 L365.4,79.73 L368.4,79.66 L371.4,79.59 L374.4,79.52 L377.4,79.46 L380.4,79.39 L383.4,79.33 L386.4,79.27 L389.4,79.20 L392.4,79.13 L395.4,79.06 L398.4,78.98 L401.4,78.90 L404.4,78.82 L407.4,78.72 L410.4,78.62 L413.4,78.50 L416.4,78.38 L419.4,78.24 L422.4,78.10 L425.4,77.94 L428.4,77.76 L431.4,77.57 L434.4,77.37 L437.4,77.15 L440.4,76.91 L443.4,76.66 L446.4,76.40 L449.4,76.12 L452.4,75.83 L455.4,75.52 L458.4,75.21 L461.4,74.88 L464.4,74.54 L467.4,74.18 L470.4,73.82 L473.4,73.44 L476.4,73.06 L479.4,72.66 L482.4,72.25 L485.4,71.84 L488.4,71.41 L491.4,70.97 L494.4,70.53 L497.4,70.08 L500.4,69.62 L503.4,69.15 L506.4,68.67 L509.4,68.19 L512.4,67.70 L515.4,67.21 L518.4,66.71 L521.4,66.20 L524.4,65.69 L527.4,65.17 L530.4,64.65 L533.4,64.13 L536.4,63.60 L539.4,63.06 L542.4,62.53 L545.4,61.99 L548.4,61.45 L551.4,60.90 L554.4,60.36 L557.4,59.81 L560.4,59.26 L563.4,58.71 L566.4,58.16 L569.4,57.61 L572.4,57.06 L575.4,56.51 L578.4,55.96 L581.4,55.42 L584.4,54.87 L587.4,54.33 L590.4,53.79 L593.4,53.25 L596.4,52.71 L599.4,52.18 L602.4,51.65 L605.4,51.13 L608.4,50.61 L611.4,50.09 L614.4,49.58 L617.4,49.07 L620.4,48.57 L623.4,48.08 L626.4,47.59 L629.4,47.11 L632.4,46.64 L635.4,46.17 L638.4,45.71 L641.4,45.26 L644.4,44.82 L647.4,44.39 L650.4,43.96 L653.4,43.55 L656.4,43.14 L659.4,42.75 L662.4,42.36 L665.4,41.99 L668.4,41.63 L671.4,41.27 L674.4,40.93 L677.4,40.61 L680.4,40.29 L683.4,39.99 L686.4,39.70 L689.4,39.43 L692.4,39.17 L695.4,38.92 L698.4,38.69 L701.4,38.47 L704.4,38.27 L707.4,38.08 L710.4,37.91 L713.4,37.75 L716.4,37.62 L719.4,37.50 L722.4,37.39 L725.4,37.31 L728.4,37.24 L730.0,37.21" fill="none" stroke="#33200e" stroke-width="1.2"/>

<path d="M135.8,70.59 L138.8,70.27 L141.8,69.95 L144.8,69.63 L147.8,69.31 L150.8,68.98 L153.8,68.66 L156.8,68.34 L159.8,68.02 L162.8,67.70 L165.8,67.38 L168.8,67.06 L171.8,66.74 L174.8,66.42 L177.8,66.11 L180.8,65.79 L183.8,65.47 L186.8,65.16 L189.8,64.84 L192.8,64.53 L195.8,64.22 L198.8,63.91 L201.8,63.60 L204.8,63.29 L207.8,62.98 L210.8,62.68 L213.8,62.37 L216.8,62.07 L219.8,61.77 L222.8,61.47 L225.8,61.18 L228.8,60.88 L231.8,60.59 L234.8,60.30 L237.8,60.01 L240.8,59.72 L243.8,59.43 L246.8,59.15 L249.8,58.87 L252.8,58.59 L255.8,58.32 L258.8,58.05 L261.8,57.78 L264.8,57.51 L267.8,57.24 L270.8,56.98 L273.8,56.72 L276.8,56.47 L279.8,56.21 L282.8,55.96 L285.8,55.72 L288.8,55.47 L291.8,55.23 L294.8,55.00 L297.8,54.76 L300.8,54.53 L303.8,54.30 L306.8,54.07 L309.8,53.85 L312.8,53.63 L315.8,53.41 L318.8,53.19 L321.8,52.98 L324.8,52.77 L327.8,52.56 L330.8,52.35 L333.8,52.15 L336.8,51.95 L339.8,51.75 L342.8,51.55 L345.8,51.36 L348.8,51.16 L351.8,50.97 L354.8,50.78 L357.8,50.60 L360.8,50.41 L363.8,50.23 L366.8,50.05 L369.8,49.87 L372.8,49.69 L375.8,49.52 L378.8,49.34 L381.8,49.17 L384.8,49.00 L387.8,48.83 L390.8,48.66 L393.8,48.49 L396.8,48.33 L399.8,48.17 L402.8,48.00 L405.8,47.84 L408.8,47.68 L411.8,47.52 L414.8,47.36 L417.8,47.21 L420.8,47.05 L423.8,46.90 L426.8,46.74 L429.8,46.59 L432.8,46.44 L435.8,46.29 L438.8,46.14 L441.8,45.99 L444.8,45.84 L447.8,45.69 L450.8,45.54 L453.8,45.40 L456.8,45.25 L459.8,45.10 L462.8,44.96 L465.8,44.82 L468.8,44.67 L471.8,44.53 L474.8,44.39 L477.8,44.25 L480.8,44.11 L483.8,43.97 L486.8,43.83 L489.8,43.69 L492.8,43.55 L495.8,43.41 L498.8,43.27 L501.8,43.13 L504.8,43.00 L507.8,42.86 L510.8,42.72 L513.8,42.59 L516.8,42.45 L519.8,42.32 L522.8,42.18 L525.8,42.05 L528.8,41.92 L531.8,41.78 L534.8,41.65 L537.8,41.52 L540.8,41.38 L543.8,41.25 L546.8,41.12 L549.8,40.99 L552.8,40.85 L555.8,40.72 L558.8,40.59 L561.8,40.46 L564.8,40.33 L567.8,40.20 L570.8,40.06 L573.8,39.93 L576.8,39.80 L579.8,39.67 L582.8,39.54 L585.8,39.41 L588.8,39.28 L591.8,39.15 L594.8,39.01 L597.8,38.88 L600.8,38.75 L603.8,38.62 L606.8,38.49 L609.8,38.36 L612.8,38.23 L615.8,38.09 L618.8,37.96 L621.8,37.83 L624.8,37.70 L627.8,37.56 L630.8,37.43 L633.8,37.30 L636.8,37.16 L639.8,37.03 L642.8,36.89 L645.8,36.76 L648.8,36.63 L651.8,36.49 L654.8,36.35 L657.8,36.22 L660.8,36.08 L663.8,35.94 L666.8,35.81 L669.8,35.67 L672.8,35.53 L675.8,35.39 L678.8,35.25 L681.8,35.11 L684.8,34.97 L687.8,34.83 L690.8,34.69 L693.8,34.55 L696.8,34.41 L699.8,34.26 L702.8,34.12 L705.8,33.97 L708.8,33.83 L711.8,33.68 L714.8,33.54 L717.8,33.39 L720.8,33.24 L723.8,33.09 L726.8,32.94 L729.8,32.79 L730.0,32.78 L730.0,43.46 L729.8,43.46 L726.8,43.50 L723.8,43.54 L720.8,43.58 L717.8,43.64 L714.8,43.70 L711.8,43.77 L708.8,43.85 L705.8,43.93 L702.8,44.02 L699.8,44.12 L696.8,44.22 L693.8,44.33 L690.8,44.45 L687.8,44.57 L684.8,44.69 L681.8,44.82 L678.8,44.96 L675.8,45.10 L672.8,45.24 L669.8,45.39 L666.8,45.54 L663.8,45.69 L660.8,45.85 L657.8,46.01 L654.8,46.17 L651.8,46.34 L648.8,46.50 L645.8,46.67 L642.8,46.85 L639.8,47.02 L636.8,47.19 L633.8,47.37 L630.8,47.54 L627.8,47.72 L624.8,47.89 L621.8,48.07 L618.8,48.25 L615.8,48.42 L612.8,48.60 L609.8,48.77 L606.8,48.94 L603.8,49.11 L600.8,49.28 L597.8,49.45 L594.8,49.62 L591.8,49.78 L588.8,49.94 L585.8,50.10 L582.8,50.25 L579.8,50.40 L576.8,50.55 L573.8,50.69 L570.8,50.83 L567.8,50.97 L564.8,51.10 L561.8,51.23 L558.8,51.36 L555.8,51.49 L552.8,51.61 L549.8,51.73 L546.8,51.85 L543.8,51.96 L540.8,52.08 L537.8,52.19 L534.8,52.29 L531.8,52.40 L528.8,52.51 L525.8,52.61 L522.8,52.71 L519.8,52.81 L516.8,52.91 L513.8,53.01 L510.8,53.11 L507.8,53.20 L504.8,53.30 L501.8,53.39 L498.8,53.48 L495.8,53.58 L492.8,53.67 L489.8,53.76 L486.8,53.86 L483.8,53.95 L480.8,54.04 L477.8,54.13 L474.8,54.22 L471.8,54.32 L468.8,54.41 L465.8,54.51 L462.8,54.60 L459.8,54.70 L456.8,54.79 L453.8,54.89 L450.8,54.99 L447.8,55.09 L444.8,55.19 L441.8,55.30 L438.8,55.40 L435.8,55.51 L432.8,55.62 L429.8,55.73 L426.8,55.84 L423.8,55.96 L420.8,56.07 L417.8,56.20 L414.8,56.32 L411.8,56.44 L408.8,56.57 L405.8,56.70 L402.8,56.84 L399.8,56.97 L396.8,57.11 L393.8,57.26 L390.8,57.41 L387.8,57.56 L384.8,57.71 L381.8,57.87 L378.8,58.04 L375.8,58.21 L372.8,58.38 L369.8,58.56 L366.8,58.75 L363.8,58.94 L360.8,59.14 L357.8,59.34 L354.8,59.55 L351.8,59.77 L348.8,59.99 L345.8,60.22 L342.8,60.46 L339.8,60.70 L336.8,60.95 L333.8,61.21 L330.8,61.48 L327.8,61.76 L324.8,62.04 L321.8,62.34 L318.8,62.64 L315.8,62.95 L312.8,63.27 L309.8,63.60 L306.8,63.94 L303.8,64.29 L300.8,64.65 L297.8,65.03 L294.8,65.41 L291.8,65.80 L288.8,66.20 L285.8,66.62 L282.8,67.05 L279.8,67.49 L276.8,67.94 L273.8,68.40 L270.8,68.88 L267.8,69.36 L264.8,69.87 L261.8,70.38 L258.8,70.91 L255.8,71.45 L252.8,72.00 L249.8,72.57 L246.8,73.15 L243.8,73.75 L240.8,74.36 L237.8,74.99 L234.8,75.63 L231.8,76.28 L228.8,76.95 L225.8,77.63 L222.8,78.33 L219.8,79.04 L216.8,79.76 L213.8,80.50 L210.8,81.25 L207.8,82.01 L204.8,82.79 L201.8,83.59 L198.8,84.39 L195.8,85.21 L192.8,86.05 L189.8,86.90 L186.8,87.76 L183.8,88.64 L180.8,89.53 L177.8,90.43 L174.8,91.35 L171.8,92.28 L168.8,93.22 L165.8,94.18 L162.8,95.15 L159.8,96.14 L156.8,97.14 L153.8,98.15 L150.8,99.18 L147.8,100.22 L144.8,101.27 L141.8,102.34 L138.8,103.42 L135.8,104.51 Z" fill="#8e5b29"/>
<path d="M134.4,122.45 L137.4,121.35 L140.4,120.26 L143.4,119.16 L146.4,118.07 L149.4,116.98 L152.4,115.90 L155.4,114.82 L158.4,113.74 L161.4,112.67 L164.4,111.61 L167.4,110.55 L170.4,109.50 L173.4,108.46 L176.4,107.43 L179.4,106.40 L182.4,105.39 L185.4,104.38 L188.4,103.38 L191.4,102.39 L194.4,101.42 L197.4,100.45 L200.4,99.50 L203.4,98.56 L206.4,97.63 L209.4,96.72 L212.4,95.82 L215.4,94.93 L218.4,94.06 L221.4,93.21 L224.4,92.37 L227.4,91.55 L230.4,90.74 L233.4,89.95 L236.4,89.18 L239.4,88.42 L242.4,87.68 L245.4,86.97 L248.4,86.26 L251.4,85.58 L254.4,84.92 L257.4,84.27 L260.4,83.64 L263.4,83.03 L266.4,82.44 L269.4,81.87 L272.4,81.31 L275.4,80.78 L278.4,80.27 L281.4,79.77 L284.4,79.29 L287.4,78.84 L290.4,78.40 L293.4,77.99 L296.4,77.59 L299.4,77.21 L302.4,76.86 L305.4,76.52 L308.4,76.21 L311.4,75.92 L314.4,75.64 L317.4,75.39 L320.4,75.15 L323.4,74.94 L326.4,74.74 L329.4,74.55 L332.4,74.38 L335.4,74.23 L338.4,74.08 L341.4,73.95 L344.4,73.83 L347.4,73.72 L350.4,73.62 L353.4,73.53 L356.4,73.45 L359.4,73.37 L362.4,73.29 L365.4,73.23 L368.4,73.16 L371.4,73.10 L374.4,73.04 L377.4,72.98 L380.4,72.92 L383.4,72.86 L386.4,72.80 L389.4,72.74 L392.4,72.67 L395.4,72.60 L398.4,72.52 L401.4,72.43 L404.4,72.34 L407.4,72.24 L410.4,72.13 L413.4,72.01 L416.4,71.89 L419.4,71.76 L422.4,71.61 L425.4,71.46 L428.4,71.30 L431.4,71.13 L434.4,70.95 L437.4,70.75 L440.4,70.55 L443.4,70.33 L446.4,70.11 L449.4,69.87 L452.4,69.61 L455.4,69.35 L458.4,69.07 L461.4,68.78 L464.4,68.48 L467.4,68.16 L470.4,67.83 L473.4,67.48 L476.4,67.12 L479.4,66.74 L482.4,66.35 L485.4,65.94 L488.4,65.52 L491.4,65.08 L494.4,64.62 L497.4,64.15 L500.4,63.66 L503.4,63.16 L506.4,62.65 L509.4,62.12 L512.4,61.58 L515.4,61.03 L518.4,60.48 L521.4,59.91 L524.4,59.33 L527.4,58.75 L530.4,58.16 L533.4,57.56 L536.4,56.96 L539.4,56.35 L542.4,55.74 L545.4,55.13 L548.4,54.51 L551.4,53.89 L554.4,53.28 L557.4,52.66 L560.4,52.04 L563.4,51.43 L566.4,50.82 L569.4,50.21 L572.4,49.60 L575.4,49.00 L578.4,48.41 L581.4,47.82 L584.4,47.24 L587.4,46.67 L590.4,46.10 L593.4,45.55 L596.4,44.99 L599.4,44.45 L602.4,43.91 L605.4,43.38 L608.4,42.86 L611.4,42.34 L614.4,41.84 L617.4,41.34 L620.4,40.85 L623.4,40.36 L626.4,39.89 L629.4,39.42 L632.4,38.96 L635.4,38.50 L638.4,38.06 L641.4,37.62 L644.4,37.19 L647.4,36.77 L650.4,36.36 L653.4,35.96 L656.4,35.56 L659.4,35.18 L662.4,34.80 L665.4,34.43 L668.4,34.07 L671.4,33.72 L674.4,33.37 L677.4,33.04 L680.4,32.71 L683.4,32.40 L686.4,32.09 L689.4,31.79 L692.4,31.50 L695.4,31.22 L698.4,30.95 L701.4,30.69 L704.4,30.44 L707.4,30.20 L710.4,29.96 L713.4,29.74 L716.4,29.52 L719.4,29.32 L722.4,29.13 L725.4,28.94 L728.4,28.77 L730.0,28.68 L730.0,45.59 L728.4,45.69 L725.4,45.87 L722.4,46.07 L719.4,46.28 L716.4,46.50 L713.4,46.72 L710.4,46.96 L707.4,47.21 L704.4,47.47 L701.4,47.73 L698.4,48.01 L695.4,48.29 L692.4,48.59 L689.4,48.89 L686.4,49.20 L683.4,49.52 L680.4,49.85 L677.4,50.19 L674.4,50.53 L671.4,50.89 L668.4,51.25 L665.4,51.61 L662.4,51.99 L659.4,52.37 L656.4,52.76 L653.4,53.16 L650.4,53.56 L647.4,53.98 L644.4,54.39 L641.4,54.82 L638.4,55.25 L635.4,55.68 L632.4,56.12 L629.4,56.57 L626.4,57.03 L623.4,57.48 L620.4,57.95 L617.4,58.42 L614.4,58.89 L611.4,59.37 L608.4,59.86 L605.4,60.34 L602.4,60.84 L599.4,61.34 L596.4,61.84 L593.4,62.34 L590.4,62.85 L587.4,63.36 L584.4,63.88 L581.4,64.40 L578.4,64.92 L575.4,65.45 L572.4,65.98 L569.4,66.51 L566.4,67.03 L563.4,67.56 L560.4,68.09 L557.4,68.62 L554.4,69.15 L551.4,69.67 L548.4,70.19 L545.4,70.71 L542.4,71.22 L539.4,71.72 L536.4,72.22 L533.4,72.71 L530.4,73.20 L527.4,73.67 L524.4,74.14 L521.4,74.60 L518.4,75.04 L515.4,75.48 L512.4,75.91 L509.4,76.32 L506.4,76.73 L503.4,77.12 L500.4,77.50 L497.4,77.88 L494.4,78.24 L491.4,78.59 L488.4,78.92 L485.4,79.25 L482.4,79.57 L479.4,79.87 L476.4,80.17 L473.4,80.45 L470.4,80.72 L467.4,80.98 L464.4,81.22 L461.4,81.46 L458.4,81.68 L455.4,81.90 L452.4,82.10 L449.4,82.29 L446.4,82.46 L443.4,82.63 L440.4,82.78 L437.4,82.92 L434.4,83.05 L431.4,83.17 L428.4,83.27 L425.4,83.37 L422.4,83.45 L419.4,83.53 L416.4,83.60 L413.4,83.67 L410.4,83.73 L407.4,83.79 L404.4,83.86 L401.4,83.92 L398.4,83.99 L395.4,84.07 L392.4,84.16 L389.4,84.25 L386.4,84.36 L383.4,84.48 L380.4,84.61 L377.4,84.77 L374.4,84.94 L371.4,85.13 L368.4,85.34 L365.4,85.57 L362.4,85.83 L359.4,86.10 L356.4,86.38 L353.4,86.67 L350.4,86.97 L347.4,87.28 L344.4,87.59 L341.4,87.90 L338.4,88.21 L335.4,88.51 L332.4,88.82 L329.4,89.13 L326.4,89.45 L323.4,89.78 L320.4,90.13 L317.4,90.50 L314.4,90.89 L311.4,91.30 L308.4,91.74 L305.4,92.21 L302.4,92.71 L299.4,93.24 L296.4,93.79 L293.4,94.37 L290.4,94.96 L287.4,95.58 L284.4,96.22 L281.4,96.87 L278.4,97.55 L275.4,98.24 L272.4,98.95 L269.4,99.69 L266.4,100.46 L263.4,101.26 L260.4,102.11 L257.4,103.00 L254.4,103.93 L251.4,104.92 L248.4,105.97 L245.4,107.08 L242.4,108.23 L239.4,109.42 L236.4,110.66 L233.4,111.92 L230.4,113.21 L227.4,114.52 L224.4,115.84 L221.4,117.16 L218.4,118.49 L215.4,119.81 L212.4,121.14 L209.4,122.48 L206.4,123.83 L203.4,125.19 L200.4,126.58 L197.4,128.00 L194.4,129.45 L191.4,130.94 L188.4,132.46 L185.4,134.04 L182.4,135.66 L179.4,137.34 L176.4,139.08 L173.4,140.89 L170.4,142.76 L167.4,144.71 L164.4,146.73 L161.4,148.85 L158.4,151.04 L155.4,153.34 L152.4,155.73 L149.4,158.22 L146.4,160.82 L143.4,163.53 L140.4,166.36 L137.4,169.31 L134.4,172.38 Z" fill="#cd8737" fill-opacity="0.55" clip-path="url(#cb)"/>
<path d="M135.8,70.59 L138.8,70.27 L141.8,69.95 L144.8,69.63 L147.8,69.31 L150.8,68.98 L153.8,68.66 L156.8,68.34 L159.8,68.02 L162.8,67.70 L165.8,67.38 L168.8,67.06 L171.8,66.74 L174.8,66.42 L177.8,66.11 L180.8,65.79 L183.8,65.47 L186.8,65.16 L189.8,64.84 L192.8,64.53 L195.8,64.22 L198.8,63.91 L201.8,63.60 L204.8,63.29 L207.8,62.98 L210.8,62.68 L213.8,62.37 L216.8,62.07 L219.8,61.77 L222.8,61.47 L225.8,61.18 L228.8,60.88 L231.8,60.59 L234.8,60.30 L237.8,60.01 L240.8,59.72 L243.8,59.43 L246.8,59.15 L249.8,58.87 L252.8,58.59 L255.8,58.32 L258.8,58.05 L261.8,57.78 L264.8,57.51 L267.8,57.24 L270.8,56.98 L273.8,56.72 L276.8,56.47 L279.8,56.21 L282.8,55.96 L285.8,55.72 L288.8,55.47 L291.8,55.23 L294.8,55.00 L297.8,54.76 L300.8,54.53 L303.8,54.30 L306.8,54.07 L309.8,53.85 L312.8,53.63 L315.8,53.41 L318.8,53.19 L321.8,52.98 L324.8,52.77 L327.8,52.56 L330.8,52.35 L333.8,52.15 L336.8,51.95 L339.8,51.75 L342.8,51.55 L345.8,51.36 L348.8,51.16 L351.8,50.97 L354.8,50.78 L357.8,50.60 L360.8,50.41 L363.8,50.23 L366.8,50.05 L369.8,49.87 L372.8,49.69 L375.8,49.52 L378.8,49.34 L381.8,49.17 L384.8,49.00 L387.8,48.83 L390.8,48.66 L393.8,48.49 L396.8,48.33 L399.8,48.17 L402.8,48.00 L405.8,47.84 L408.8,47.68 L411.8,47.52 L414.8,47.36 L417.8,47.21 L420.8,47.05 L423.8,46.90 L426.8,46.74 L429.8,46.59 L432.8,46.44 L435.8,46.29 L438.8,46.14 L441.8,45.99 L444.8,45.84 L447.8,45.69 L450.8,45.54 L453.8,45.40 L456.8,45.25 L459.8,45.10 L462.8,44.96 L465.8,44.82 L468.8,44.67 L471.8,44.53 L474.8,44.39 L477.8,44.25 L480.8,44.11 L483.8,43.97 L486.8,43.83 L489.8,43.69 L492.8,43.55 L495.8,43.41 L498.8,43.27 L501.8,43.13 L504.8,43.00 L507.8,42.86 L510.8,42.72 L513.8,42.59 L516.8,42.45 L519.8,42.32 L522.8,42.18 L525.8,42.05 L528.8,41.92 L531.8,41.78 L534.8,41.65 L537.8,41.52 L540.8,41.38 L543.8,41.25 L546.8,41.12 L549.8,40.99 L552.8,40.85 L555.8,40.72 L558.8,40.59 L561.8,40.46 L564.8,40.33 L567.8,40.20 L570.8,40.06 L573.8,39.93 L576.8,39.80 L579.8,39.67 L582.8,39.54 L585.8,39.41 L588.8,39.28 L591.8,39.15 L594.8,39.01 L597.8,38.88 L600.8,38.75 L603.8,38.62 L606.8,38.49 L609.8,38.36 L612.8,38.23 L615.8,38.09 L618.8,37.96 L621.8,37.83 L624.8,37.70 L627.8,37.56 L630.8,37.43 L633.8,37.30 L636.8,37.16 L639.8,37.03 L642.8,36.89 L645.8,36.76 L648.8,36.63 L651.8,36.49 L654.8,36.35 L657.8,36.22 L660.8,36.08 L663.8,35.94 L666.8,35.81 L669.8,35.67 L672.8,35.53 L675.8,35.39 L678.8,35.25 L681.8,35.11 L684.8,34.97 L687.8,34.83 L690.8,34.69 L693.8,34.55 L696.8,34.41 L699.8,34.26 L702.8,34.12 L705.8,33.97 L708.8,33.83 L711.8,33.68 L714.8,33.54 L717.8,33.39 L720.8,33.24 L723.8,33.09 L726.8,32.94 L729.8,32.79 L730.0,32.78" fill="none" stroke="#5a3814" stroke-width="1.1" stroke-dasharray="1.2 1.6"/><path d="M135.8,104.51 L138.8,103.42 L141.8,102.34 L144.8,101.27 L147.8,100.22 L150.8,99.18 L153.8,98.15 L156.8,97.14 L159.8,96.14 L162.8,95.15 L165.8,94.18 L168.8,93.22 L171.8,92.28 L174.8,91.35 L177.8,90.43 L180.8,89.53 L183.8,88.64 L186.8,87.76 L189.8,86.90 L192.8,86.05 L195.8,85.21 L198.8,84.39 L201.8,83.59 L204.8,82.79 L207.8,82.01 L210.8,81.25 L213.8,80.50 L216.8,79.76 L219.8,79.04 L222.8,78.33 L225.8,77.63 L228.8,76.95 L231.8,76.28 L234.8,75.63 L237.8,74.99 L240.8,74.36 L243.8,73.75 L246.8,73.15 L249.8,72.57 L252.8,72.00 L255.8,71.45 L258.8,70.91 L261.8,70.38 L264.8,69.87 L267.8,69.36 L270.8,68.88 L273.8,68.40 L276.8,67.94 L279.8,67.49 L282.8,67.05 L285.8,66.62 L288.8,66.20 L291.8,65.80 L294.8,65.41 L297.8,65.03 L300.8,64.65 L303.8,64.29 L306.8,63.94 L309.8,63.60 L312.8,63.27 L315.8,62.95 L318.8,62.64 L321.8,62.34 L324.8,62.04 L327.8,61.76 L330.8,61.48 L333.8,61.21 L336.8,60.95 L339.8,60.70 L342.8,60.46 L345.8,60.22 L348.8,59.99 L351.8,59.77 L354.8,59.55 L357.8,59.34 L360.8,59.14 L363.8,58.94 L366.8,58.75 L369.8,58.56 L372.8,58.38 L375.8,58.21 L378.8,58.04 L381.8,57.87 L384.8,57.71 L387.8,57.56 L390.8,57.41 L393.8,57.26 L396.8,57.11 L399.8,56.97 L402.8,56.84 L405.8,56.70 L408.8,56.57 L411.8,56.44 L414.8,56.32 L417.8,56.20 L420.8,56.07 L423.8,55.96 L426.8,55.84 L429.8,55.73 L432.8,55.62 L435.8,55.51 L438.8,55.40 L441.8,55.30 L444.8,55.19 L447.8,55.09 L450.8,54.99 L453.8,54.89 L456.8,54.79 L459.8,54.70 L462.8,54.60 L465.8,54.51 L468.8,54.41 L471.8,54.32 L474.8,54.22 L477.8,54.13 L480.8,54.04 L483.8,53.95 L486.8,53.86 L489.8,53.76 L492.8,53.67 L495.8,53.58 L498.8,53.48 L501.8,53.39 L504.8,53.30 L507.8,53.20 L510.8,53.11 L513.8,53.01 L516.8,52.91 L519.8,52.81 L522.8,52.71 L525.8,52.61 L528.8,52.51 L531.8,52.40 L534.8,52.29 L537.8,52.19 L540.8,52.08 L543.8,51.96 L546.8,51.85 L549.8,51.73 L552.8,51.61 L555.8,51.49 L558.8,51.36 L561.8,51.23 L564.8,51.10 L567.8,50.97 L570.8,50.83 L573.8,50.69 L576.8,50.55 L579.8,50.40 L582.8,50.25 L585.8,50.10 L588.8,49.94 L591.8,49.78 L594.8,49.62 L597.8,49.45 L600.8,49.28 L603.8,49.11 L606.8,48.94 L609.8,48.77 L612.8,48.60 L615.8,48.42 L618.8,48.25 L621.8,48.07 L624.8,47.89 L627.8,47.72 L630.8,47.54 L633.8,47.37 L636.8,47.19 L639.8,47.02 L642.8,46.85 L645.8,46.67 L648.8,46.50 L651.8,46.34 L654.8,46.17 L657.8,46.01 L660.8,45.85 L663.8,45.69 L666.8,45.54 L669.8,45.39 L672.8,45.24 L675.8,45.10 L678.8,44.96 L681.8,44.82 L684.8,44.69 L687.8,44.57 L690.8,44.45 L693.8,44.33 L696.8,44.22 L699.8,44.12 L702.8,44.02 L705.8,43.93 L708.8,43.85 L711.8,43.77 L714.8,43.70 L717.8,43.64 L720.8,43.58 L723.8,43.54 L726.8,43.50 L729.8,43.46 L730.0,43.46" fill="none" stroke="#5a3814" stroke-width="1.1" stroke-dasharray="1.2 1.6"/>
<path d="M135.8,87.62 L138.8,86.84 L141.8,86.07 L144.8,85.32 L147.8,84.58 L150.8,83.85 L153.8,83.13 L156.8,82.42 L159.8,81.72 L162.8,81.04 L165.8,80.36 L168.8,79.70 L171.8,79.05 L174.8,78.41 L177.8,77.77 L180.8,77.15 L183.8,76.54 L186.8,75.94 L189.8,75.35 L192.8,74.77 L195.8,74.20 L198.8,73.64 L201.8,73.09 L204.8,72.55 L207.8,72.01 L210.8,71.49 L213.8,70.98 L216.8,70.47 L219.8,69.98 L222.8,69.49 L225.8,69.01 L228.8,68.54 L231.8,68.08 L234.8,67.63 L237.8,67.19 L240.8,66.75 L243.8,66.32 L246.8,65.90 L249.8,65.49 L252.8,65.09 L255.8,64.69 L258.8,64.30 L261.8,63.92 L264.8,63.55 L267.8,63.18 L270.8,62.82 L273.8,62.47 L276.8,62.12 L279.8,61.78 L282.8,61.45 L285.8,61.13 L288.8,60.81 L291.8,60.50 L294.8,60.19 L297.8,59.89 L300.8,59.59 L303.8,59.31 L306.8,59.02 L309.8,58.75 L312.8,58.48 L315.8,58.21 L318.8,57.95 L321.8,57.69 L324.8,57.44 L327.8,57.20 L330.8,56.96 L333.8,56.72 L336.8,56.49 L339.8,56.27 L342.8,56.05 L345.8,55.83 L348.8,55.62 L351.8,55.41 L354.8,55.20 L357.8,55.00 L360.8,54.81 L363.8,54.61 L366.8,54.42 L369.8,54.24 L372.8,54.05 L375.8,53.88 L378.8,53.70 L381.8,53.53 L384.8,53.36 L387.8,53.19 L390.8,53.02 L393.8,52.86 L396.8,52.70 L399.8,52.54 L402.8,52.39 L405.8,52.24 L408.8,52.09 L411.8,51.94 L414.8,51.79 L417.8,51.65 L420.8,51.50 L423.8,51.36 L426.8,51.22 L429.8,51.08 L432.8,50.94 L435.8,50.81 L438.8,50.67 L441.8,50.54 L444.8,50.40 L447.8,50.27 L450.8,50.14 L453.8,50.01 L456.8,49.88 L459.8,49.75 L462.8,49.62 L465.8,49.49 L468.8,49.36 L471.8,49.23 L474.8,49.11 L477.8,48.98 L480.8,48.86 L483.8,48.73 L486.8,48.61 L489.8,48.48 L492.8,48.36 L495.8,48.23 L498.8,48.11 L501.8,47.99 L504.8,47.86 L507.8,47.74 L510.8,47.62 L513.8,47.49 L516.8,47.37 L519.8,47.25 L522.8,47.12 L525.8,47.00 L528.8,46.87 L531.8,46.75 L534.8,46.62 L537.8,46.50 L540.8,46.37 L543.8,46.25 L546.8,46.12 L549.8,45.99 L552.8,45.86 L555.8,45.73 L558.8,45.61 L561.8,45.47 L564.8,45.34 L567.8,45.21 L570.8,45.08 L573.8,44.94 L576.8,44.81 L579.8,44.67 L582.8,44.54 L585.8,44.40 L588.8,44.26 L591.8,44.12 L594.8,43.98 L597.8,43.83 L600.8,43.69 L603.8,43.55 L606.8,43.40 L609.8,43.26 L612.8,43.11 L615.8,42.96 L618.8,42.81 L621.8,42.66 L624.8,42.51 L627.8,42.36 L630.8,42.20 L633.8,42.05 L636.8,41.90 L639.8,41.74 L642.8,41.58 L645.8,41.43 L648.8,41.27 L651.8,41.11 L654.8,40.95 L657.8,40.79 L660.8,40.63 L663.8,40.47 L666.8,40.30 L669.8,40.14 L672.8,39.98 L675.8,39.81 L678.8,39.65 L681.8,39.48 L684.8,39.31 L687.8,39.15 L690.8,38.98 L693.8,38.81 L696.8,38.64 L699.8,38.47 L702.8,38.30 L705.8,38.13 L708.8,37.96 L711.8,37.78 L714.8,37.61 L717.8,37.44 L720.8,37.26 L723.8,37.09 L726.8,36.92 L729.8,36.74 L730.0,36.73" fill="none" stroke="#33200e" stroke-width="1.2"/>

<line x1="480.6" y1="19.4" x2="480.6" y2="446" stroke="#7b8a9c" stroke-width="2" stroke-opacity="0.38"/>
<line x1="83" y1="130.45" x2="726" y2="130.45" stroke="#57514b" stroke-width="1.1"/><line x1="83" y1="230.45" x2="726" y2="230.45" stroke="#57514b" stroke-width="1.1"/><line x1="83" y1="330.4" x2="726" y2="330.4" stroke="#57514b" stroke-width="1.1"/>
<line x1="82.6" y1="0" x2="82.6" y2="447.4" stroke="#57534f" stroke-width="1.2"/>
<line x1="82" y1="446.7" x2="726" y2="446.7" stroke="#5e5a56" stroke-width="1.25"/>
<line x1="75" y1="30.6" x2="83" y2="30.6" stroke="#625d58" stroke-width="1.2"/><line x1="75" y1="130.45" x2="83" y2="130.45" stroke="#625d58" stroke-width="1.2"/><line x1="75" y1="230.45" x2="83" y2="230.45" stroke="#625d58" stroke-width="1.2"/><line x1="75" y1="330.4" x2="83" y2="330.4" stroke="#625d58" stroke-width="1.2"/><line x1="75" y1="430.0" x2="83" y2="430.0" stroke="#625d58" stroke-width="1.2"/><text transform="translate(31.680,35.900) scale(1.0998,1)" font-size="14.483" font-weight="bold" fill="#111" stroke="#111" stroke-width="0.25">100%</text><text transform="translate(40.377,135.500) scale(1.0913,1)" font-size="14.636" font-weight="bold" fill="#111" stroke="#111" stroke-width="0.25">75%</text><text transform="translate(49.625,434.700) scale(1.0846,1)" font-size="14.483" font-weight="bold" fill="#111" stroke="#111" stroke-width="0.25">0%</text><text transform="translate(40.377,235.500) scale(1.0913,1)" font-size="14.636" font-weight="bold" fill="#111" stroke="#111" stroke-width="0.25">50%</text><text transform="translate(40.377,335.500) scale(1.0913,1)" font-size="14.636" font-weight="bold" fill="#111" stroke="#111" stroke-width="0.25">25%</text><line x1="152.4" y1="446.5" x2="152.4" y2="454.5" stroke="#55514d" stroke-width="1.2"/><line x1="244.1" y1="446.5" x2="244.1" y2="454.5" stroke="#55514d" stroke-width="1.2"/><line x1="335.8" y1="446.5" x2="335.8" y2="454.5" stroke="#55514d" stroke-width="1.2"/><line x1="427.4" y1="446.5" x2="427.4" y2="454.5" stroke="#55514d" stroke-width="1.2"/><line x1="519.1" y1="446.5" x2="519.1" y2="454.5" stroke="#55514d" stroke-width="1.2"/><line x1="610.8" y1="446.5" x2="610.8" y2="454.5" stroke="#55514d" stroke-width="1.2"/><line x1="702.5" y1="446.5" x2="702.5" y2="454.5" stroke="#55514d" stroke-width="1.2"/><text transform="translate(152.4,473.1) scale(0.9448,1)" text-anchor="middle" font-size="12.791" fill="#2b2826" stroke="#2b2826" stroke-width="0.2">20</text><text transform="translate(244.1,473.1) scale(0.9448,1)" text-anchor="middle" font-size="12.791" fill="#2b2826" stroke="#2b2826" stroke-width="0.2">40</text><text transform="translate(335.8,473.1) scale(0.9448,1)" text-anchor="middle" font-size="12.791" fill="#2b2826" stroke="#2b2826" stroke-width="0.2">60</text><text transform="translate(427.4,473.1) scale(0.9448,1)" text-anchor="middle" font-size="12.791" fill="#2b2826" stroke="#2b2826" stroke-width="0.2">80</text><text transform="translate(519.1,473.1) scale(0.9448,1)" text-anchor="middle" font-size="12.791" fill="#2b2826" stroke="#2b2826" stroke-width="0.2">100</text><text transform="translate(610.8,473.1) scale(0.9448,1)" text-anchor="middle" font-size="12.791" fill="#2b2826" stroke="#2b2826" stroke-width="0.2">120</text><text transform="translate(702.5,473.1) scale(0.9448,1)" text-anchor="middle" font-size="12.791" fill="#2b2826" stroke="#2b2826" stroke-width="0.2">140</text>
<text transform="translate(113.717,14.800) scale(1.0329,1)" font-size="15.843" font-weight="bold" fill="#111">B: target of 30 ng/mL</text>
<text transform="translate(159.545,49.400) scale(1.0555,1)" font-size="11.628" font-weight="normal" fill="#222">Non&#8722;Hispanic Blacks</text>
<text transform="translate(296.823,109.700) scale(1.0267,1)" font-size="12.064" font-weight="normal" fill="#222">Mexican Americans</text>
<text transform="translate(371.675,502.400) scale(1.0004,1)" font-size="12.209" font-weight="normal" fill="#222">Weight in kg</text>
<text transform="translate(20.4,314.554) rotate(-90) scale(0.9542,1)" font-size="15.843" font-weight="bold" fill="#111">Probability of deficiency</text>
<text transform="translate(455.336,461.700) scale(0.9870,1)" font-size="16.860" font-weight="normal" fill="#55749a" stroke="#fcfcff" stroke-width="0.12">200 lb</text>
</svg>
</body></html>
